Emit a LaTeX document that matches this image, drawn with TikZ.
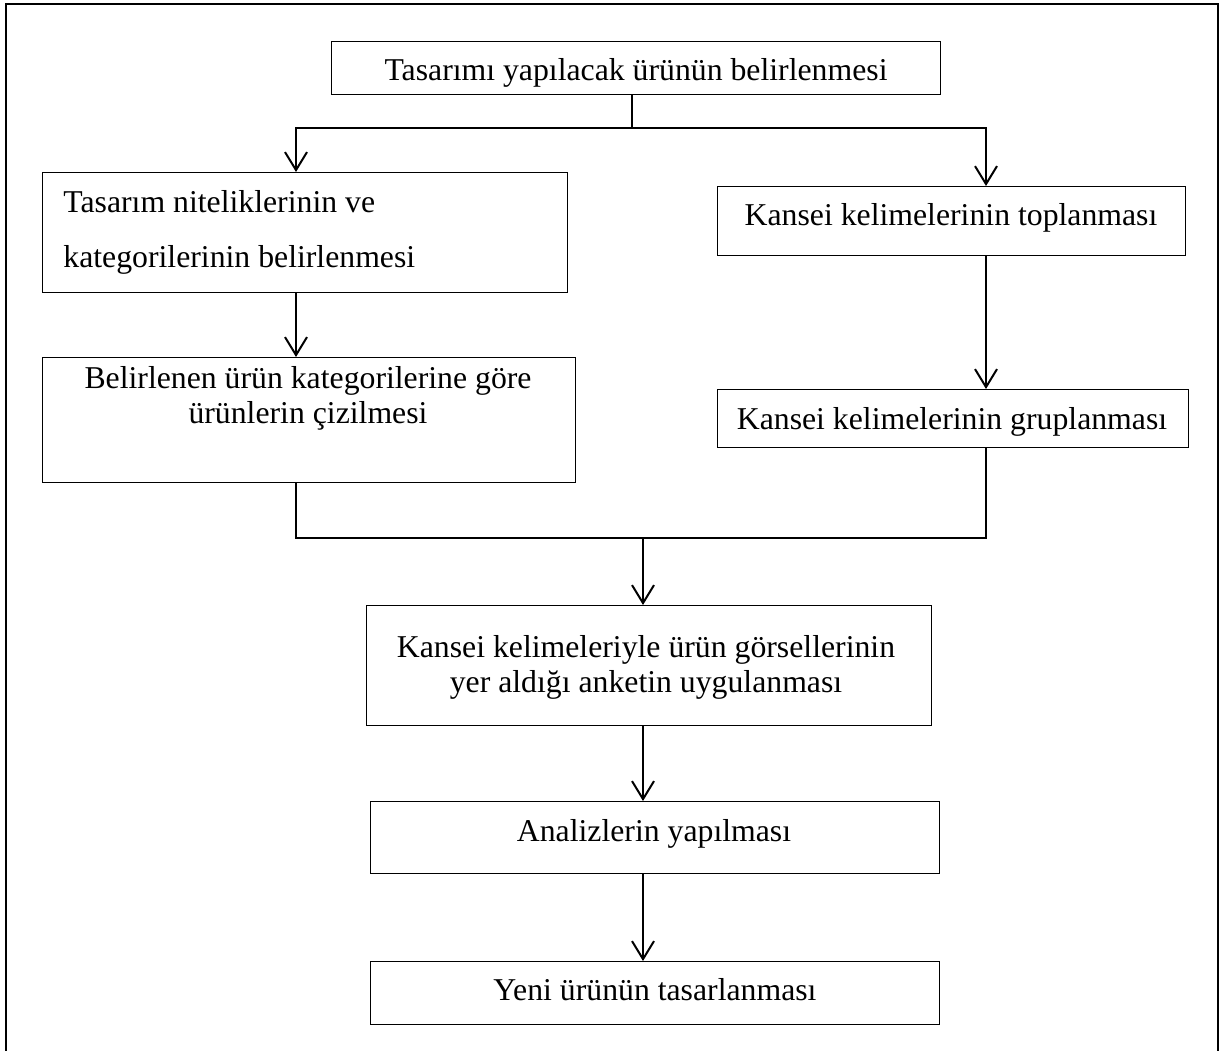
\documentclass[tikz,border=0pt]{standalone}
\usepackage{fontspec}
\setmainfont{Liberation Serif}
\usetikzlibrary{arrows.meta}
\begin{document}
\begin{tikzpicture}[x=0.5pt,y=-0.5pt,
  box/.style={draw=black, line width=0.7pt, rectangle, inner sep=0pt, anchor=north west},
  txt/.style={inner sep=0pt, anchor=base, font=\fontsize{15.875pt}{17.5pt}\selectfont},
  txtl/.style={txt, anchor=base west},
  conn/.style={draw=black, line width=1pt},
  arr/.style={conn, -{Straight Barb[length=9pt,width=11pt]}},
  frame/.style={draw=black, line width=0.8pt}]
\useasboundingbox (0,0) rectangle (1229,1050);
\fill[white] (0,0) rectangle (1229,1050);
% outer frame (open at the bottom)
\draw[frame] (6,1052) -- (6,4) -- (1218,4) -- (1218,1052);

% boxes
\node[box, minimum width=304.5pt, minimum height=26.5pt] (bA) at (331,41) {};
\node[box, minimum width=262.5pt, minimum height=60pt]   (bB) at (42,172) {};
\node[box, minimum width=234pt,   minimum height=34.5pt] (bC) at (717,186) {};
\node[box, minimum width=266.5pt, minimum height=62.5pt] (bD) at (42,357) {};
\node[box, minimum width=235.5pt, minimum height=29pt]   (bE) at (717,389) {};
\node[box, minimum width=282.5pt, minimum height=60pt]   (bF) at (366,605) {};
\node[box, minimum width=284.5pt, minimum height=36pt]   (bG) at (370,801) {};
\node[box, minimum width=284.5pt, minimum height=31.5pt] (bH) at (370,961) {};

% texts
\node[txt]  (tA)  at (636,80)  {Tasarımı yapılacak ürünün belirlenmesi};
\node[txtl] (tB1) at (63,212)  {Tasarım niteliklerinin ve};
\node[txtl] (tB2) at (63,267)  {kategorilerinin belirlenmesi};
\node[txt]  (tC)  at (951,225) {Kansei kelimelerinin toplanması};
\node[txt]  (tD1) at (308,388) {Belirlenen ürün kategorilerine göre};
\node[txt]  (tD2) at (308,423) {ürünlerin çizilmesi};
\node[txt]  (tE)  at (952,429) {Kansei kelimelerinin gruplanması};
\node[txt]  (tF1) at (646,657) {Kansei kelimeleriyle ürün görsellerinin};
\node[txt]  (tF2) at (646,692) {yer aldığı anketin uygulanması};
\node[txt]  (tG)  at (654,841) {Analizlerin yapılması};
\node[txt]  (tH)  at (655,1000) {Yeni ürünün tasarlanması};

% connector coordinates
\coordinate (j1) at (632,128);
\coordinate (cl) at (296,0);
\coordinate (cr) at (986,0);
\coordinate (j2) at (643,538);

% connectors
\draw[conn] (bA.south -| j1) -- (j1);
\draw[arr] (j1) -| (bB.north -| cl);
\draw[arr] (j1) -| (bC.north -| cr);
\draw[arr] (bB.south -| cl) -- (bD.north -| cl);
\draw[arr] (bC.south -| cr) -- (bE.north -| cr);
\draw[conn] (bD.south -| cl) |- (j2);
\draw[conn] (bE.south -| cr) |- (j2);
\draw[arr] (j2) -- (bF.north -| j2);
\draw[arr] (bF.south -| j2) -- (bG.north -| j2);
\draw[arr] (bG.south -| j2) -- (bH.north -| j2);
\end{tikzpicture}
\end{document}
